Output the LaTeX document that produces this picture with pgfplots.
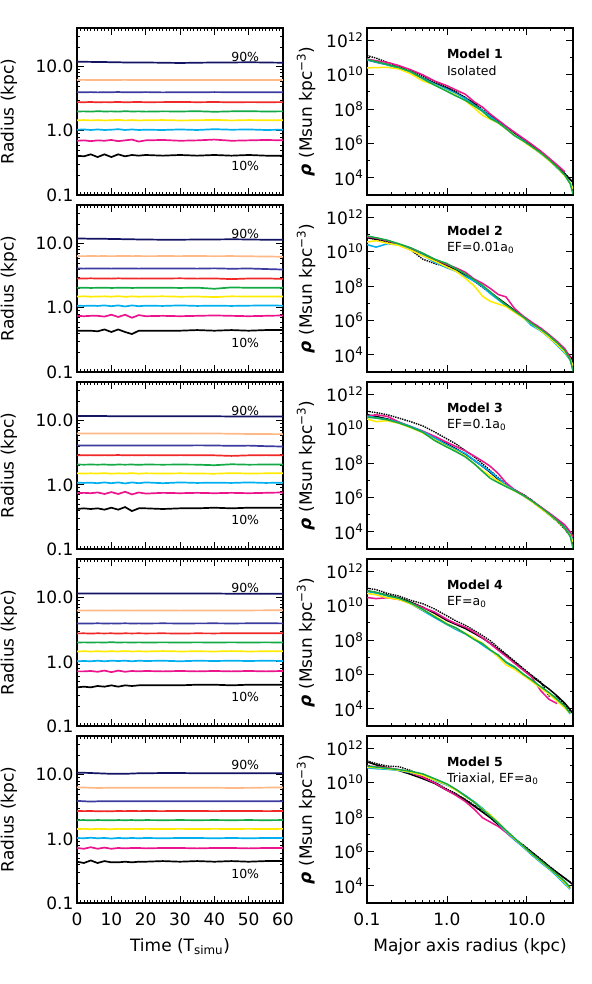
\documentclass[border=0pt]{standalone}
\usepackage{pgfplots}
\usepackage{pgfplotstable}
\pgfplotsset{compat=1.18}
\usepackage{fontspec}
\setmainfont{DejaVu Sans}

\definecolor{cnavy}{RGB}{20,20,100}
\definecolor{cpeach}{RGB}{255,185,135}
\definecolor{cblue}{RGB}{60,60,160}
\definecolor{cred}{RGB}{240,40,40}
\definecolor{cgreen}{RGB}{20,170,70}
\definecolor{cyellow}{RGB}{255,235,0}
\definecolor{ccyan}{RGB}{0,175,240}
\definecolor{cmag}{RGB}{235,20,140}

% Lagrangian radii (kpc) vs time: 10% ... 90% mass
\pgfplotstableread{
t  k    m    c    y    g    r    b    p    n
0  0.41 0.70 1.04 1.46 2.00 2.80 4.00 6.20 11.9
2  0.40 0.71 1.05 1.47 2.01 2.79 3.98 6.22 11.9
4  0.43 0.69 1.03 1.45 1.99 2.81 4.01 6.18 11.85
6  0.39 0.71 1.05 1.47 2.02 2.78 3.97 6.20 11.8
8  0.43 0.70 1.03 1.45 2.00 2.80 4.00 6.21 11.8
10 0.39 0.72 1.04 1.46 2.01 2.79 3.99 6.19 11.7
12 0.43 0.69 1.06 1.48 1.99 2.82 4.02 6.20 11.7
14 0.40 0.71 1.03 1.45 2.02 2.78 3.98 6.22 11.6
16 0.42 0.73 1.05 1.47 2.00 2.80 4.00 6.19 11.6
18 0.41 0.68 1.03 1.45 2.01 2.81 3.99 6.20 11.6
20 0.42 0.71 1.04 1.46 1.99 2.79 4.01 6.21 11.6
25 0.41 0.72 1.03 1.47 2.01 2.80 3.97 6.19 11.5
30 0.42 0.70 1.05 1.45 2.00 2.82 4.00 6.20 11.4
35 0.41 0.71 1.03 1.46 2.02 2.79 3.98 6.21 11.5
40 0.42 0.73 1.06 1.48 1.98 2.81 4.01 6.18 11.6
45 0.41 0.70 1.04 1.45 2.01 2.78 3.99 6.20 11.6
50 0.42 0.71 1.05 1.47 2.02 2.80 4.00 6.19 11.7
55 0.41 0.72 1.03 1.46 2.00 2.79 3.98 6.21 11.6
60 0.41 0.71 1.04 1.46 2.01 2.80 3.98 6.20 11.5
}\radA
\pgfplotstableread{
t  k    m    c    y    g    r    b    p    n
0  0.44 0.75 1.08 1.50 2.05 2.87 4.10 6.40 12.0
2  0.44 0.74 1.07 1.51 2.06 2.86 4.08 6.38 12.0
4  0.44 0.75 1.08 1.49 2.04 2.88 4.11 6.41 11.9
6  0.43 0.75 1.07 1.50 2.05 2.86 4.09 6.39 11.9
8  0.46 0.73 1.09 1.51 2.06 2.87 4.10 6.40 11.9
10 0.42 0.78 1.06 1.49 2.04 2.85 4.08 6.38 11.8
12 0.46 0.72 1.09 1.52 2.05 2.88 4.11 6.40 11.8
14 0.42 0.78 1.05 1.48 2.06 2.86 4.09 6.41 11.7
16 0.39 0.70 1.09 1.51 2.04 2.87 4.10 6.39 11.7
18 0.44 0.77 1.06 1.49 2.05 2.85 4.08 6.40 11.6
20 0.44 0.74 1.08 1.50 2.05 2.87 4.10 6.38 11.6
25 0.44 0.75 1.07 1.51 2.06 2.86 4.09 6.40 11.5
30 0.44 0.74 1.09 1.49 2.04 2.88 4.11 6.39 11.5
35 0.45 0.75 1.07 1.50 2.06 2.85 4.08 6.41 11.6
40 0.44 0.76 1.08 1.47 1.98 2.87 4.12 6.38 11.6
45 0.45 0.75 1.07 1.51 2.08 2.80 4.06 6.40 11.7
50 0.44 0.74 1.08 1.50 2.05 2.86 4.10 6.35 11.6
55 0.45 0.75 1.09 1.50 2.06 2.87 4.02 6.30 11.5
60 0.45 0.76 1.08 1.50 2.05 2.82 3.95 6.25 11.5
}\radB
\pgfplotstableread{
t  k    m    c    y    g    r    b    p    n
0  0.42 0.74 1.08 1.51 2.07 2.90 4.10 6.30 11.8
2  0.43 0.75 1.07 1.50 2.06 2.89 4.11 6.32 11.8
4  0.42 0.74 1.08 1.51 2.07 2.90 4.09 6.30 11.8
6  0.43 0.76 1.06 1.50 2.06 2.88 4.10 6.31 11.8
8  0.41 0.72 1.09 1.52 2.07 2.90 4.11 6.29 11.8
10 0.44 0.77 1.06 1.49 2.05 2.89 4.09 6.31 11.7
12 0.41 0.72 1.09 1.51 2.07 2.91 4.10 6.30 11.7
14 0.45 0.78 1.05 1.50 2.06 2.88 4.11 6.28 11.7
16 0.39 0.71 1.09 1.52 2.07 2.90 4.10 6.30 11.7
18 0.43 0.76 1.06 1.49 2.05 2.89 4.09 6.31 11.7
20 0.43 0.73 1.09 1.51 2.07 2.90 4.11 6.29 11.7
25 0.42 0.75 1.06 1.50 2.06 2.88 4.10 6.30 11.7
30 0.43 0.74 1.09 1.51 2.07 2.90 4.09 6.31 11.7
35 0.43 0.75 1.07 1.50 2.06 2.89 4.12 6.28 11.7
40 0.44 0.74 1.08 1.49 2.02 2.88 4.10 6.30 11.7
45 0.43 0.75 1.07 1.52 2.09 2.82 4.05 6.25 11.6
50 0.44 0.74 1.09 1.50 2.06 2.88 4.08 6.20 11.6
55 0.44 0.75 1.07 1.51 2.07 2.90 4.00 6.18 11.6
60 0.44 0.76 1.08 1.51 2.07 2.88 3.95 6.15 11.6
}\radC
\pgfplotstableread{
t  k    m    c    y    g    r    b    p    n
0  0.40 0.71 1.02 1.45 2.00 2.77 3.97 6.30 11.6
2  0.41 0.71 1.03 1.46 2.01 2.78 3.95 6.28 11.6
4  0.40 0.72 1.02 1.45 2.00 2.76 3.96 6.29 11.6
6  0.42 0.70 1.04 1.46 2.01 2.78 3.98 6.30 11.6
8  0.41 0.73 1.02 1.45 2.00 2.77 3.96 6.28 11.6
10 0.43 0.69 1.04 1.46 2.02 2.78 3.97 6.30 11.6
12 0.41 0.73 1.03 1.45 2.00 2.76 3.96 6.29 11.6
14 0.43 0.70 1.04 1.47 2.01 2.78 3.98 6.30 11.6
16 0.42 0.72 1.02 1.45 2.00 2.77 3.96 6.28 11.6
18 0.43 0.71 1.04 1.46 2.01 2.78 3.97 6.30 11.6
20 0.43 0.72 1.03 1.45 2.00 2.77 3.96 6.29 11.6
25 0.43 0.71 1.04 1.47 2.01 2.78 3.98 6.30 11.6
30 0.43 0.72 1.02 1.45 2.00 2.76 3.96 6.28 11.6
35 0.44 0.71 1.04 1.46 2.01 2.78 3.97 6.30 11.6
40 0.44 0.72 1.03 1.45 2.00 2.77 3.98 6.29 11.6
45 0.43 0.71 1.04 1.47 2.01 2.79 3.96 6.30 11.5
50 0.44 0.72 1.03 1.45 2.00 2.78 3.98 6.32 11.5
55 0.44 0.71 1.04 1.46 2.01 2.78 3.99 6.34 11.5
60 0.44 0.72 1.03 1.46 2.00 2.78 3.97 6.35 11.5
}\radD
\pgfplotstableread{
t  k    m    c    y    g    r    b    p    n
0  0.44 0.72 1.03 1.42 1.95 2.72 3.90 6.35 10.7
2  0.42 0.70 1.02 1.43 1.96 2.70 3.85 6.30 10.7
4  0.46 0.74 1.04 1.41 1.94 2.71 3.80 6.25 10.6
6  0.42 0.70 1.02 1.43 1.96 2.69 3.84 6.20 10.5
8  0.45 0.73 1.03 1.42 1.95 2.70 3.86 6.22 10.4
10 0.43 0.70 1.01 1.41 1.94 2.69 3.84 6.25 10.3
12 0.43 0.72 1.03 1.43 1.96 2.71 3.85 6.25 10.3
14 0.44 0.71 1.02 1.42 1.95 2.70 3.86 6.24 10.3
16 0.43 0.72 1.03 1.43 1.96 2.72 3.84 6.25 10.4
18 0.44 0.72 1.02 1.42 1.94 2.70 3.86 6.25 10.5
20 0.44 0.71 1.03 1.43 1.96 2.71 3.85 6.24 10.5
25 0.45 0.72 1.02 1.42 1.95 2.70 3.86 6.25 10.6
30 0.44 0.72 1.03 1.43 1.96 2.72 3.85 6.24 10.6
35 0.45 0.71 1.03 1.42 1.95 2.71 3.86 6.25 10.5
40 0.44 0.72 1.02 1.43 1.96 2.70 3.84 6.24 10.5
45 0.45 0.72 1.03 1.42 1.95 2.71 3.86 6.20 10.5
50 0.44 0.71 1.02 1.43 1.96 2.72 3.85 6.22 10.5
55 0.45 0.72 1.03 1.42 1.95 2.70 3.86 6.28 10.5
60 0.45 0.72 1.03 1.43 1.96 2.71 3.85 6.30 10.5
}\radE

% density profiles (Msun kpc^-3) vs major axis radius (kpc)
\pgfplotstableread{
x    fit     dot     mag     cya     yel     grn
0.10 7.1e10  1.26e11 7.9e10  7.1e10  2.4e10  7.6e10
0.13 5.2e10  8.9e10  6.3e10  5.2e10  2.5e10  5.5e10
0.18 3.8e10  5.0e10  5.0e10  3.55e10 2.6e10  3.8e10
0.25 2.5e10  3.0e10  3.3e10  2.24e10 2.1e10  2.5e10
0.35 1.41e10 1.66e10 1.9e10  1.32e10 1.12e10 1.5e10
0.5  6.3e9   7.9e9   9.5e9   6.0e9   4.2e9   5.6e9
0.7  3.16e9  3.8e9   4.2e9   2.8e9   2.5e9   2.4e9
1.0  1.58e9  1.78e9  2.24e9  1.41e9  1.12e9  1.05e9
1.3  8.9e8   1.0e9   1.26e9  7.9e8   6.3e8   5.6e8
1.7  4.2e8   4.6e8   7.1e8   4.0e8   3.0e8   3.16e8
2.2  2.0e8   2.24e8  2.6e8   1.66e8  1.12e8  1.5e8
2.8  7.9e7   8.9e7   1.26e8  8.3e7   4.2e7   7.1e7
3.5  3.8e7   4.2e7   5.0e7   3.55e7  2.5e7   2.8e7
4.4  1.78e7  2.0e7   2.24e7  1.66e7  1.5e7   1.58e7
5.5  8.3e6   8.9e6   1.0e7   7.6e6   7.1e6   7.1e6
7    3.55e6  3.8e6   4.5e6   3.16e6  3.0e6   2.8e6
9    1.58e6  1.66e6  2.0e6   1.5e6   1.32e6  1.41e6
11.5 7.6e5   7.6e5   8.9e5   6.3e5   6.0e5   6.6e5
15   3.0e5   3.16e5  3.55e5  2.5e5   2.6e5   2.8e5
19   1.17e5  1.2e5   1.41e5  1.05e5  1.0e5   1.12e5
24   4.7e4   4.8e4   5.6e4   3.8e4   4.0e4   4.2e4
30   1.66e4  1.78e4  2.24e4  1.41e4  1.26e4  1.41e4
35   7.9e3   8.3e3   nan     5.2e3   5.0e3   4.5e3
38   5.6e3   6.3e3   nan     2.5e3   2.24e3  1.12e3
}\rhoA
\pgfplotstableread{
x    fit     dot     mag     cya     yel     grn
0.10 6.3e10  6.3e10  7.1e10  2.5e10  3.55e10 7.9e10
0.13 5.2e10  5.0e10  6.0e10  1.78e10 4.2e10  6.3e10
0.18 4.0e10  3.55e10 4.2e10  2.8e10  3.0e10  4.5e10
0.25 2.5e10  2.4e10  2.6e10  2.4e10  2.24e10 2.8e10
0.35 1.41e10 1.26e10 1.58e10 1.26e10 1.2e10  1.66e10
0.5  6.6e9   3.55e9  7.6e9   6.0e9   5.6e9   7.9e9
0.7  3.16e9  2.0e9   3.55e9  2.4e9   2.8e9   3.55e9
1.0  1.48e9  1.26e9  1.78e9  1.12e9  1.26e9  2.0e9
1.3  8.3e8   7.9e8   1.12e9  7.1e8   7.1e8   1.0e9
1.7  4.2e8   4.0e8   6.3e8   3.55e8  2.8e8   5.0e8
2.2  2.0e8   1.9e8   2.5e8   1.9e8   1.0e8   2.24e8
2.8  8.9e7   8.3e7   1.41e8  8.9e7   2.5e7   1.05e8
3.5  4.2e7   4.0e7   7.1e7   3.55e7  1.26e7  4.5e7
4.4  1.9e7   1.78e7  3.16e7  1.58e7  8.9e6   1.78e7
5.5  8.9e6   8.3e6   2.3e7   7.1e6   6.3e6   7.9e6
7    3.8e6   3.55e6  5.0e6   3.16e6  3.0e6   3.55e6
9    1.66e6  1.58e6  1.78e6  1.5e6   1.41e6  1.58e6
11.5 7.1e5   6.3e5   7.9e5   5.0e5   6.3e5   6.6e5
15   2.8e5   2.5e5   3.55e5  2.5e5   2.6e5   3.0e5
19   1.2e5   1.12e5  1.5e5   1.0e5   1.05e5  1.32e5
24   4.8e4   4.5e4   6.0e4   3.55e4  4.0e4   5.0e4
30   1.78e4  1.66e4  2.24e4  1.26e4  1.41e4  1.78e4
35   7.9e3   7.6e3   7.1e3   5.0e3   5.6e3   5.2e3
38   5.0e3   4.5e3   1.26e3  2.5e3   2.24e3  1.12e3
}\rhoB
\pgfplotstableread{
x    fit     dot     mag     cya     yel     grn
0.10 6.3e10  1.0e11  5.0e10  5.2e10  3.55e10 4.5e10
0.13 5.0e10  8.3e10  6.3e10  4.2e10  2.5e10  4.0e10
0.18 3.55e10 6.3e10  5.0e10  3.3e10  2.8e10  3.16e10
0.25 2.14e10 4.0e10  2.4e10  2.24e10 2.0e10  2.1e10
0.35 1.26e10 2.5e10  1.32e10 1.32e10 1.12e10 1.2e10
0.5  6.3e9   1.41e10 7.1e9   6.6e9   5.6e9   6.0e9
0.7  2.8e9   6.3e9   3.55e9  2.8e9   2.24e9  2.0e9
1.0  1.26e9  2.5e9   1.58e9  1.12e9  8.9e8   8.3e8
1.3  6.6e8   1.26e9  8.9e8   6.0e8   5.0e8   4.5e8
1.7  3.3e8   5.2e8   5.0e8   3.55e8  2.5e8   2.24e8
2.2  1.41e8  2.24e8  2.5e8   1.41e8  8.9e7   8.9e7
2.8  6.3e7   8.9e7   1.26e8  6.3e7   3.55e7  3.16e7
3.5  2.8e7   3.55e7  6.3e7   3.16e7  1.78e7  1.26e7
4.4  1.12e7  1.41e7  2.4e7   1.26e7  8.9e6   7.1e6
5.5  5.0e6   5.6e6   7.1e6   5.2e6   4.5e6   4.2e6
7    2.5e6   2.8e6   2.8e6   2.6e6   2.4e6   2.5e6
9    1.32e6  1.5e6   1.41e6  1.26e6  1.26e6  1.32e6
11.5 6.3e5   7.1e5   6.6e5   6.0e5   5.8e5   6.3e5
15   2.5e5   2.5e5   2.8e5   2.4e5   2.24e5  2.6e5
19   1.12e5  1.0e5   1.26e5  1.0e5   1.0e5   1.12e5
24   4.8e4   4.0e4   5.6e4   4.2e4   4.2e4   4.5e4
30   1.78e4  1.41e4  2.5e4   1.78e4  1.58e4  1.66e4
35   8.9e3   5.6e3   1.0e4   7.1e3   6.3e3   5.6e3
38   6.3e3   3.55e3  5.0e3   3.16e3  2.5e3   1.12e3
}\rhoC
\pgfplotstableread{
x    fit     dot     mag     cya     yel     grn
0.10 7.1e10  1.0e11  2.9e10  6.6e10  5.0e10  7.1e10
0.13 5.6e10  8.3e10  2.5e10  5.2e10  4.2e10  5.8e10
0.18 4.0e10  5.0e10  2.8e10  3.55e10 2.8e10  3.8e10
0.25 2.8e10  3.55e10 2.24e10 2.5e10  2.24e10 2.6e10
0.35 1.58e10 2.0e10  1.41e10 1.26e10 1.26e10 1.41e10
0.5  7.9e9   1.26e10 7.6e9   5.0e9   5.6e9   6.0e9
0.7  3.55e9  6.3e9   4.2e9   2.0e9   2.5e9   2.24e9
1.0  1.35e9  2.5e9   1.58e9  7.9e8   8.9e8   8.3e8
1.3  7.9e8   1.26e9  8.9e8   4.0e8   4.8e8   5.0e8
1.7  4.6e8   7.1e8   5.6e8   2.24e8  2.5e8   2.3e8
2.2  2.4e8   3.55e8  2.8e8   1.12e8  1.26e8  1.05e8
2.8  1.26e8  1.78e8  1.32e8  5.0e7   6.3e7   6.0e7
3.5  6.3e7   8.9e7   6.0e7   2.5e7   2.8e7   2.6e7
4.4  2.8e7   3.55e7  2.5e7   1.12e7  1.0e7   1.32e7
5.5  1.32e7  1.5e7   1.12e7  5.0e6   3.55e6  5.2e6
7    5.2e6   6.0e6   4.5e6   2.24e6  2.0e6   2.8e6
9    2.0e6   2.24e6  1.78e6  1.0e6   8.9e5   1.05e6
11.5 7.9e5   8.9e5   7.1e5   4.5e5   4.0e5   4.8e5
15   3.16e5  3.55e5  1.12e5  1.78e5  1.58e5  1.9e5
19   1.41e5  5.6e4   3.55e4  7.9e4   7.1e4   8.9e4
24   5.6e4   5.0e4   2.0e4   3.55e4  2.8e4   3.55e4
30   2.1e4   1.58e4  nan     1.26e4  1.12e4  1.41e4
35   8.9e3   7.9e3   nan     5.0e3   5.6e3   5.6e3
38   5.2e3   5.6e3   nan     nan     nan     nan
}\rhoD
\pgfplotstableread{
x    fit     dot     mag     cya     yel     grn
0.10 1.58e11 1.78e11 8.9e10  7.1e10  7.9e10  8.9e10
0.13 1.05e11 1.26e11 8.3e10  6.3e10  7.2e10  7.9e10
0.18 7.1e10  8.9e10  7.1e10  5.8e10  6.3e10  6.6e10
0.25 5.0e10  8.3e10  5.6e10  5.0e10  5.2e10  5.6e10
0.35 3.0e10  5.0e10  3.8e10  3.8e10  4.0e10  4.5e10
0.5  1.66e10 2.24e10 2.0e10  2.8e10  2.6e10  3.16e10
0.7  8.9e9   1.05e10 9.5e9   1.32e10 1.41e10 1.66e10
1.0  3.55e9  4.2e9   3.55e9  7.1e9   7.6e9   8.3e9
1.3  2.0e9   2.24e9  1.78e9  3.8e9   3.55e9  4.0e9
1.7  9.5e8   1.05e9  7.9e8   1.78e9  1.58e9  1.66e9
2.2  4.2e8   4.8e8   2.8e8   7.6e8   7.1e8   7.1e8
2.8  1.9e8   2.1e8   8.9e7   3.16e8  2.8e8   2.6e8
3.5  8.9e7   9.5e7   5.0e7   1.26e8  1.32e8  1.12e8
4.4  3.55e7  3.8e7   2.8e7   4.2e7   4.8e7   4.5e7
5.5  1.41e7  1.5e7   1.26e7  1.41e7  1.58e7  1.66e7
7    5.0e6   5.2e6   4.8e6   4.8e6   5.6e6   6.0e6
9    2.24e6  2.4e6   1.9e6   1.78e6  2.0e6   2.1e6
11.5 8.9e5   9.5e5   6.6e5   6.3e5   7.1e5   7.6e5
15   3.3e5   3.55e5  2.5e5   2.24e5  2.6e5   2.8e5
19   1.32e5  1.41e5  1.0e5   9.5e4   1.05e5  1.12e5
24   5.9e4   6.0e4   4.2e4   3.55e4  4.2e4   4.5e4
30   2.7e4   2.8e4   1.58e4  1.26e4  1.5e4   1.78e4
35   1.58e4  1.66e4  7.1e3   6.3e3   7.1e3   7.9e3
38   1.15e4  1.2e4   nan     nan     nan     nan
}\rhoE

\newcommand\bigfont{\fontsize{17}{20}\selectfont}
\newcommand\smallfont{\fontsize{12.5}{15}\selectfont}

\pgfplotsset{
  panel/.style={scale only axis, width=206pt, height=167pt, anchor=south west,
    axis line style={line width=1.2pt}, every tick/.style={black, line width=0.7pt},
    major tick length=7pt, minor tick length=3pt, tick align=inside,
    tick label style={font=\bigfont}, label style={font=\bigfont},
    xticklabel style={yshift=-6pt}},
  lpanel/.style={panel, xmin=0, xmax=60, ymin=0.1, ymax=40,
    xtick={0,10,20,30,40,50,60}, minor x tick num=9, xticklabels={},
    ytick={0.1,1,10}, yticklabels={0.1,1.0,10.0},
    minor ytick={0.2,0.3,0.4,0.5,0.6,0.7,0.8,0.9,2,3,4,5,6,7,8,9,20,30},
    ylabel={Radius (kpc)},
    ylabel style={at={(axis description cs:-0.33,0.5)}, anchor=center, rotate=0}},
  rpanel/.style={panel, xmin=0.1, xmax=38, ymin=1e3, ymax=5e12,
    xtick={0.1,1,10}, xticklabels={},
    minor xtick={0.2,0.3,0.4,0.5,0.6,0.7,0.8,0.9,2,3,4,5,6,7,8,9,20,30},
    ytick={1e4,1e6,1e8,1e10,1e12},
    yticklabels={10\textsuperscript{4},10\textsuperscript{6},10\textsuperscript{8},10\textsuperscript{10},10\textsuperscript{12}},
    minor ytick={1e3,1e5,1e7,1e9,1e11},
    ylabel={\textbf{\textit{ρ}} (Msun kpc\textsuperscript{−3})},
    ylabel style={at={(axis description cs:-0.296,0.5)}, anchor=center, rotate=0}},
  lastrow/.style={xlabel style={at={(axis description cs:0.5,-0.26)}, anchor=center}},
}

\newcommand\radlines[1]{%
  \addplot[black, line width=1.7pt] table[x=t,y=k]{#1};
  \addplot[cmag, line width=1.7pt] table[x=t,y=m]{#1};
  \addplot[ccyan, line width=1.7pt] table[x=t,y=c]{#1};
  \addplot[cyellow, line width=1.7pt] table[x=t,y=y]{#1};
  \addplot[cgreen, line width=1.7pt] table[x=t,y=g]{#1};
  \addplot[cred, line width=1.7pt] table[x=t,y=r]{#1};
  \addplot[cblue, line width=1.7pt] table[x=t,y=b]{#1};
  \addplot[cpeach, line width=1.7pt] table[x=t,y=p]{#1};
  \addplot[cnavy, line width=1.7pt] table[x=t,y=n]{#1};
  \node[font=\smallfont] at (axis cs:49,14) {90\%};
  \node[font=\smallfont] at (axis cs:49,0.28) {10\%};
}
\newcommand\rholines[1]{%
  \addplot[black, line width=1.4pt, densely dotted] table[x=x,y=dot]{#1};
  \addplot[black, line width=1.5pt] table[x=x,y=fit]{#1};
  \addplot[cmag, line width=1.5pt] table[x=x,y=mag]{#1};
  \addplot[ccyan, line width=1.5pt] table[x=x,y=cya]{#1};
  \addplot[cyellow, line width=1.5pt] table[x=x,y=yel]{#1};
  \addplot[cgreen, line width=1.5pt] table[x=x,y=grn]{#1};
}
\newcommand\modeltext[2]{%
  \node[font=\smallfont\bfseries, anchor=west, inner sep=0pt] at (axis cs:1.0,1.6e11) {#1};
  \node[font=\smallfont, anchor=west, inner sep=0pt] at (axis cs:1.0,1.6e10) {#2};
}

\begin{document}
\begin{tikzpicture}
\path[use as bounding box] (0,0) rectangle (591pt,984pt);

\begin{semilogyaxis}[lpanel, at={(77pt,789pt)}] \radlines{\radA} \end{semilogyaxis}
\begin{semilogyaxis}[lpanel, at={(77pt,612pt)}] \radlines{\radB} \end{semilogyaxis}
\begin{semilogyaxis}[lpanel, at={(77pt,435pt)}] \radlines{\radC} \end{semilogyaxis}
\begin{semilogyaxis}[lpanel, at={(77pt,258pt)}] \radlines{\radD} \end{semilogyaxis}
\begin{semilogyaxis}[lpanel, lastrow, at={(77pt,81pt)}, xticklabels={0,10,20,30,40,50,60},
  xlabel={Time (T\textsubscript{simu})}] \radlines{\radE} \end{semilogyaxis}

\begin{loglogaxis}[rpanel, at={(367pt,789pt)}] \rholines{\rhoA} \modeltext{Model 1}{Isolated} \end{loglogaxis}
\begin{loglogaxis}[rpanel, at={(367pt,612pt)}] \rholines{\rhoB} \modeltext{Model 2}{EF=0.01a\textsubscript{0}} \end{loglogaxis}
\begin{loglogaxis}[rpanel, at={(367pt,435pt)}] \rholines{\rhoC} \modeltext{Model 3}{EF=0.1a\textsubscript{0}} \end{loglogaxis}
\begin{loglogaxis}[rpanel, at={(367pt,258pt)}] \rholines{\rhoD} \modeltext{Model 4}{EF=a\textsubscript{0}} \end{loglogaxis}
\begin{loglogaxis}[rpanel, lastrow, at={(367pt,81pt)}, xticklabels={0.1,1.0,10.0},
  xlabel={Major axis radius (kpc)}] \rholines{\rhoE} \modeltext{Model 5}{Triaxial, EF=a\textsubscript{0}} \end{loglogaxis}
\end{tikzpicture}
\end{document}
